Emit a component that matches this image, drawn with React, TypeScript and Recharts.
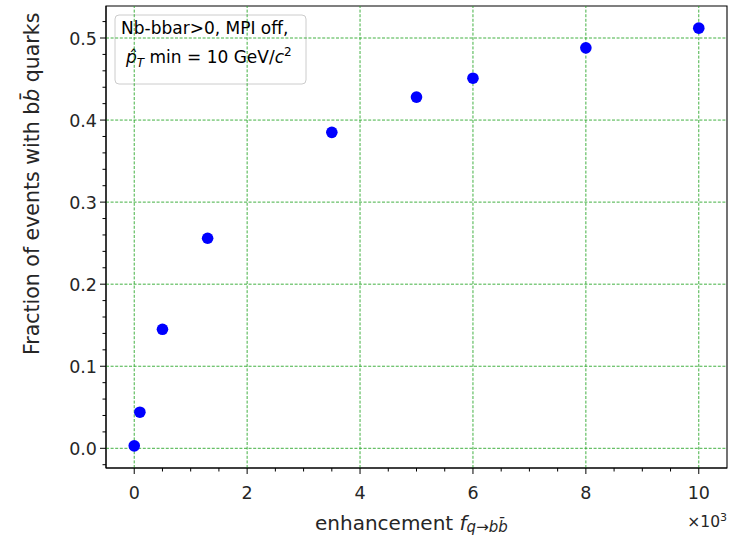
import React from 'react';
import { ScatterChart, Scatter, XAxis, YAxis, ReferenceLine, ReferenceArea } from 'recharts';

// enhancement factor (in units of 10^3) vs fraction of events with b-bbar
const enhancement = [0, 0.1, 0.5, 1.3, 3.5, 5, 6, 8, 10];
const fraction = [0.003, 0.044, 0.145, 0.256, 0.385, 0.428, 0.451, 0.488, 0.512];

const xTicks = [0, 2, 4, 6, 8, 10];
const xMinorTicks = [0.5, 1, 1.5, 2.5, 3, 3.5, 4.5, 5, 5.5, 6.5, 7, 7.5, 8.5, 9, 9.5];
const yTicks = [0, 0.1, 0.2, 0.3, 0.4, 0.5];
const yMinorTicks = [
  -0.02, 0.02, 0.04, 0.06, 0.08, 0.12, 0.14, 0.16, 0.18, 0.22, 0.24, 0.26, 0.28,
  0.32, 0.34, 0.36, 0.38, 0.42, 0.44, 0.46, 0.48, 0.52,
];

const xDomain: [number, number] = [-0.5, 10.5];
const yDomain: [number, number] = [-0.024, 0.539];

const data = enhancement.map((x, i) => ({ x, y: fraction[i] }));

const FONT = '"DejaVu Sans", sans-serif';
const GRID = '#2ea82e';

const XTick = (props: any) => {
  const { x, y, payload } = props;
  const major = xTicks.includes(payload.value);
  return (
    <g>
      <line x1={x} y1={y} x2={x} y2={y + (major ? 6 : 3.5)} stroke="#000" strokeWidth={1} />
      {major && (
        <text x={x} y={y + 31} textAnchor="middle" fontSize={17.5} fontFamily={FONT} fill="#262626">
          {payload.value}
        </text>
      )}
    </g>
  );
};

const YTick = (props: any) => {
  const { x, y, payload } = props;
  const major = yTicks.some((t) => Math.abs(t - payload.value) < 1e-9);
  return (
    <g>
      <line x1={x - (major ? 6 : 3.5)} y1={y} x2={x} y2={y} stroke="#000" strokeWidth={1} />
      {major && (
        <text x={x - 9} y={y + 6.5} textAnchor="end" fontSize={17.5} fontFamily={FONT} fill="#262626">
          {payload.value.toFixed(1)}
        </text>
      )}
    </g>
  );
};

export default function App() {
  return (
    <div style={{ position: 'absolute', left: 0, top: 0, width: 742, height: 535, background: '#fff' }}>
      <ScatterChart width={742} height={535} margin={{ top: 6, right: 15, bottom: 27, left: 0 }}>
        <XAxis
          type="number"
          dataKey="x"
          domain={xDomain}
          ticks={[...xTicks, ...xMinorTicks].sort((a, b) => a - b)}
          interval={0}
          tick={<XTick />}
          tickLine={false}
          tickSize={0}
          tickMargin={0}
          height={40}
          axisLine={{ stroke: '#000' }}
          allowDataOverflow
        />
        <YAxis
          type="number"
          dataKey="y"
          domain={yDomain}
          ticks={[...yTicks, ...yMinorTicks].sort((a, b) => a - b)}
          interval={0}
          tick={<YTick />}
          tickLine={false}
          tickSize={0}
          tickMargin={0}
          width={106}
          axisLine={{ stroke: '#000' }}
          allowDataOverflow
        />
        {xTicks.map((t) => (
          <ReferenceLine key={'gx' + t} x={t} stroke={GRID} strokeWidth={0.9} strokeDasharray="3 1.6" />
        ))}
        {yTicks.map((t) => (
          <ReferenceLine key={'gy' + t} y={t} stroke={GRID} strokeWidth={0.9} strokeDasharray="3 1.6" />
        ))}
        <ReferenceArea
          x1={xDomain[0]}
          x2={xDomain[1]}
          y1={yDomain[0]}
          y2={yDomain[1]}
          fill="none"
          stroke="#000"
          strokeWidth={1.1}
          fillOpacity={0}
        />
        <Scatter
          data={data}
          fill="#0000ff"
          isAnimationActive={false}
          shape={(p: any) => <circle cx={p.cx} cy={p.cy} r={5.8} fill="#0000ff" />}
        />
        {/* annotation box */}
        <g>
          <rect x={115} y={15} width={191} height={69} rx={4} fill="#fff" fillOpacity={0.85} stroke="#cccccc" />
          <text x={121} y={34} fontSize={17} fontFamily={FONT} fill="#000">
            Nb-bbar&gt;0, MPI off,
          </text>
          <text x={126} y={63} fontSize={17} fontFamily={FONT} fill="#000">
            <tspan fontStyle="italic">p̂</tspan>
            <tspan dy={4} fontSize={12} fontStyle="italic">T</tspan>
            <tspan dy={-4}> min = 10 GeV/</tspan>
            <tspan fontStyle="italic">c</tspan>
            <tspan dy={-7} fontSize={12}>2</tspan>
          </text>
        </g>
        {/* axis labels */}
        <text transform="translate(39,355) rotate(-90)" fontSize={20.5} fontFamily={FONT} fill="#262626">
          Fraction of events with b<tspan fontStyle="italic">b̄</tspan> quarks
        </text>
        <text x={315} y={530} fontSize={20} fontFamily={FONT} fill="#262626">
          enhancement <tspan fontStyle="italic">f</tspan>
          <tspan dy={2} fontSize={15} fontStyle="italic">q→bb̄</tspan>
        </text>
        <text x={727} y={527} textAnchor="end" fontSize={15.5} fontFamily={FONT} fill="#262626">
          ×10<tspan dy={-6} fontSize={11}>3</tspan>
        </text>
      </ScatterChart>
    </div>
  );
}
